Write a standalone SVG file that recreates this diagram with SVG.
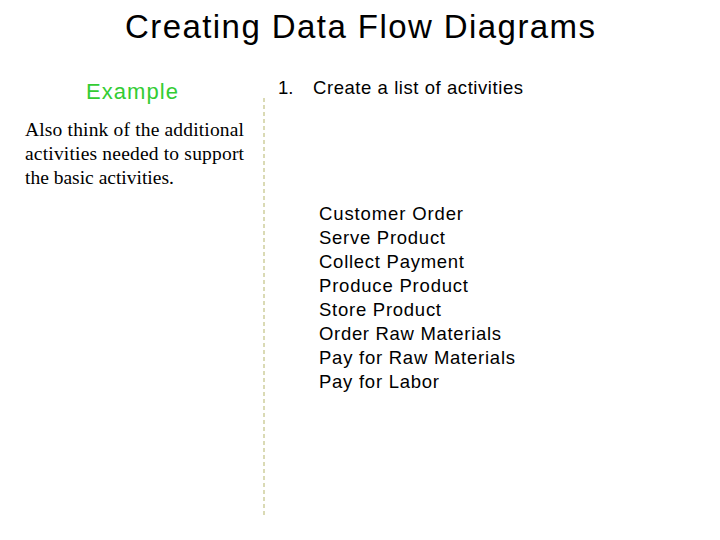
<svg xmlns="http://www.w3.org/2000/svg" width="720" height="540" viewBox="0 0 720 540">
<style>
.s{font-family:"Liberation Sans",Arial,sans-serif;fill:#000}
.r{font-family:"Liberation Serif","Times New Roman",serif;font-size:19.5px;fill:#000}
.l{font-size:18.5px}
</style>
<rect width="720" height="540" fill="#fff"/>
<g id="title"><text class="s" x="125" y="38" font-size="33" textLength="470">Creating Data Flow Diagrams</text></g>
<g id="example"><text class="s" x="86" y="99" font-size="22" textLength="92" style="fill:#33cc33">Example</text></g>
<g id="note">
<text class="r" x="25" y="136" textLength="219">Also think of the additional</text>
<text class="r" x="25" y="160" textLength="219">activities needed to support</text>
<text class="r" x="25" y="184">the basic activities.</text>
</g>
<g id="connectors"><line x1="264" y1="98" x2="264" y2="515" stroke="#b5b56a" stroke-width="1" stroke-dasharray="4,3"/></g>
<g id="step"><text class="s l" x="278" y="94">1.</text><text class="s l" x="313" y="94" textLength="210">Create a list of activities</text></g>
<g id="list">
<text class="s l" x="319" y="220" textLength="144">Customer Order</text>
<text class="s l" x="319" y="244" textLength="126">Serve Product</text>
<text class="s l" x="319" y="268" textLength="145">Collect Payment</text>
<text class="s l" x="319" y="292" textLength="149">Produce Product</text>
<text class="s l" x="319" y="316" textLength="122">Store Product</text>
<text class="s l" x="319" y="340" textLength="182">Order Raw Materials</text>
<text class="s l" x="319" y="364" textLength="196">Pay for Raw Materials</text>
<text class="s l" x="319" y="388" textLength="120">Pay for Labor</text>
</g>
</svg>
